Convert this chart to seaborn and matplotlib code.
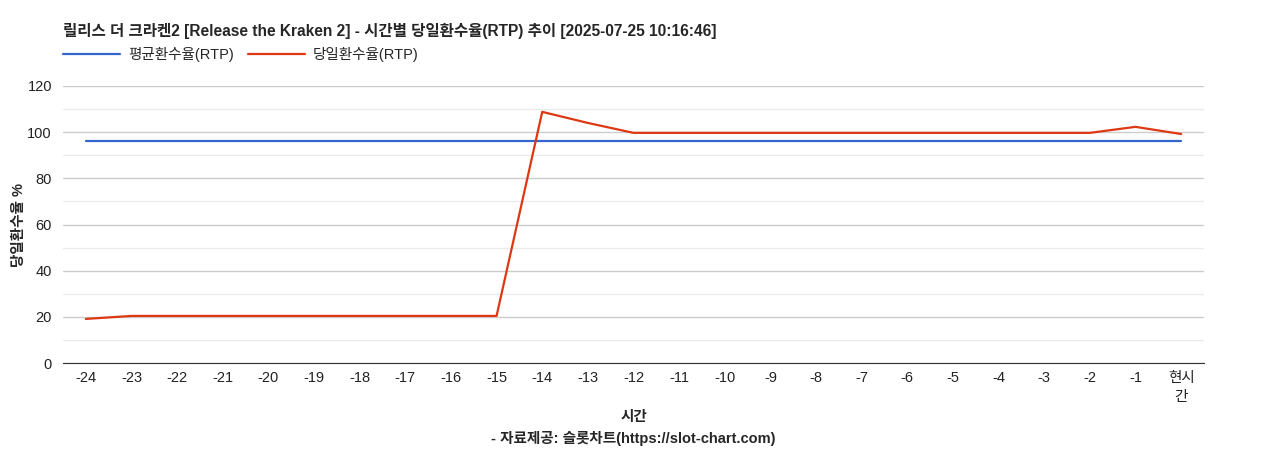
import pandas as pd
import seaborn as sns
import matplotlib.pyplot as plt
from matplotlib.ticker import MultipleLocator

hours = ["-24", "-23", "-22", "-21", "-20", "-19", "-18", "-17", "-16", "-15", "-14", "-13",
         "-12", "-11", "-10", "-9", "-8", "-7", "-6", "-5", "-4", "-3", "-2", "-1", "현시\n간"]
avg_rtp = [96.2] * 25
day_rtp = [19.1, 20.4, 20.4, 20.4, 20.4, 20.4, 20.4, 20.4, 20.4, 20.4, 108.8, 104.0,
           99.7, 99.7, 99.7, 99.7, 99.7, 99.7, 99.7, 99.7, 99.7, 99.7, 99.7, 102.3, 99.2]

df = pd.DataFrame({"pos": range(len(hours)), "avg": avg_rtp, "day": day_rtp})

sns.set_style("white")
plt.rcParams['font.family'] = ['Liberation Sans', 'Noto Sans CJK KR', 'DejaVu Sans']

fig = plt.figure(figsize=(12.68, 4.5), dpi=100)
ax = fig.add_axes([0.0497, 0.1933, 0.8998, 0.6156])

ax.yaxis.set_major_locator(MultipleLocator(20))
ax.yaxis.set_minor_locator(MultipleLocator(10))
ax.grid(which='major', axis='y', color='#cccccc', linewidth=1)
ax.grid(which='minor', axis='y', color='#ebebeb', linewidth=1)
ax.set_axisbelow(True)

sns.lineplot(data=df, x="pos", y="avg", ax=ax, color="#3366cc", linewidth=1.6, label="평균환수율(RTP)")
sns.lineplot(data=df, x="pos", y="day", ax=ax, color="#dc3912", linewidth=1.6, label="당일환수율(RTP)")

ax.set_xlim(-0.5, len(hours) - 0.5)
ax.set_ylim(0, 120)
ax.set_xticks(range(len(hours)))
ax.set_xticklabels(hours, fontsize=10.5, color='#222222', linespacing=1.45)
ax.tick_params(axis='y', labelsize=10.5, colors='#222222', length=0, pad=8)
ax.tick_params(axis='x', length=0, pad=6)
for s in ["top", "right", "left"]:
    ax.spines[s].set_visible(False)
ax.spines["bottom"].set_color("#333333")

ax.set_xlabel("시간", fontsize=10.5, fontweight='bold')
ax.xaxis.set_label_coords(0.5, -0.17)
fig.text(0.0497 + 0.8998 / 2, 1 - 439 / 450, "- 자료제공: 슬롯차트(https://slot-chart.com)",
         fontsize=10.5, fontweight='bold', ha='center', va='center')

ax.set_ylabel("당일환수율 %", fontsize=10.5, fontweight='bold')
ax.yaxis.label.set_va('center')
ax.yaxis.set_label_coords(-0.039, 0.5)

fig.text(0.0497, 0.932, "릴리스 더 크라켄2 [Release the Kraken 2] - 시간별 당일환수율(RTP) 추이 [2025-07-25 10:16:46]",
         fontsize=11.2, fontweight='bold', va='center', ha='left')
ax.legend(loc='lower left', bbox_to_anchor=(0.0, 1.085), ncol=2, frameon=False,
          fontsize=10.5, handlelength=3.9, handletextpad=0.55, columnspacing=1.0,
          borderaxespad=0, borderpad=0)

fig.savefig("out.png", dpi=100)
